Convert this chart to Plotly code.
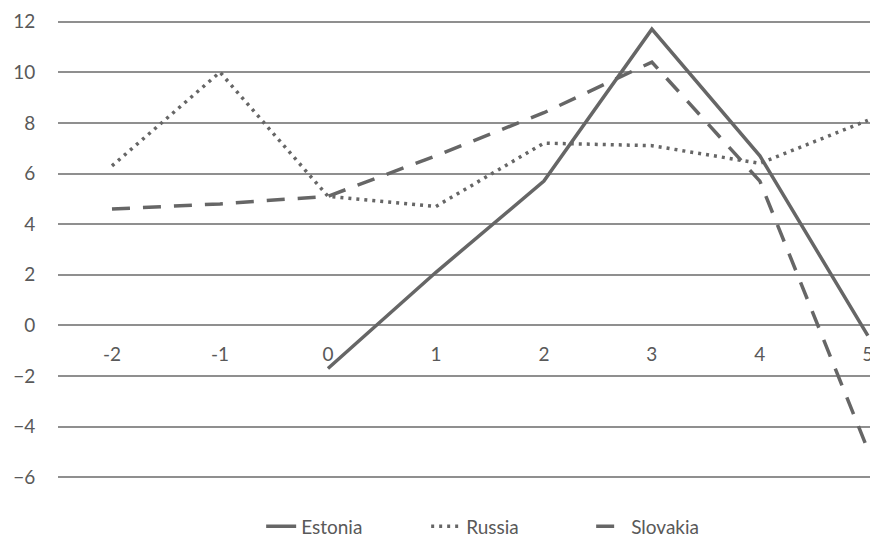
import plotly.graph_objects as go

years = [-2, -1, 0, 1, 2, 3, 4, 5]
estonia = [None, None, -1.7, 2.1, 5.7, 11.7, 6.7, -0.4]
russia = [6.3, 10.0, 5.1, 4.7, 7.2, 7.1, 6.4, 8.1]
slovakia = [4.6, 4.8, 5.1, 6.7, 8.4, 10.4, 5.7, -4.9]
y_ticks = [-6, -4, -2, 0, 2, 4, 6, 8, 10, 12]

line_color = "#666666"
text_color = "#595959"
font_family = "Lato, 'Open Sans', sans-serif"

y_lo, y_hi = -6.1, 12.1

fig = go.Figure()
fig.add_trace(go.Scatter(x=years, y=estonia, name="Estonia", mode="lines",
                         line=dict(color=line_color, width=3.5)))
fig.add_trace(go.Scatter(x=years, y=russia, name="Russia", mode="lines",
                         line=dict(color=line_color, width=3.5, dash="3px,5px")))
fig.add_trace(go.Scatter(x=years, y=slovakia, name="Slovakia", mode="lines",
                         line=dict(color=line_color, width=3.5, dash="18px,13px")))

fig.update_layout(
    width=870, height=538,
    margin=dict(l=58, r=0, t=18.5, b=57.5, autoexpand=False),
    paper_bgcolor="white", plot_bgcolor="white",
    font=dict(family=font_family, size=19, color=text_color),
    showlegend=True,
    legend=dict(orientation="h", x=0.555, xanchor="center", y=-0.1006, yanchor="middle",
                font=dict(size=19, color=text_color), entrywidth=120),
    xaxis=dict(range=[-2.5, 5.02], tickvals=years, ticktext=[str(v) for v in years],
               showgrid=False, zeroline=False, showline=False, automargin=False,
               anchor="free", position=(0 - y_lo) / (y_hi - y_lo), ticks="outside", ticklen=12,
               ticklabeloverflow="allow",
               tickcolor="rgba(0,0,0,0)", tickfont=dict(size=19, color=text_color)),
    yaxis=dict(range=[y_lo, y_hi], tickvals=y_ticks, showgrid=True, gridcolor="#8f8f8f",
               gridwidth=1.5, zeroline=False, showline=False, ticks="outside", ticklen=18,
               automargin=False,
               tickcolor="rgba(0,0,0,0)", tickfont=dict(size=19, color=text_color)),
)

fig.write_html("out.html", config={"displayModeBar": False},
               post_script="document.body.style.margin='0';")
